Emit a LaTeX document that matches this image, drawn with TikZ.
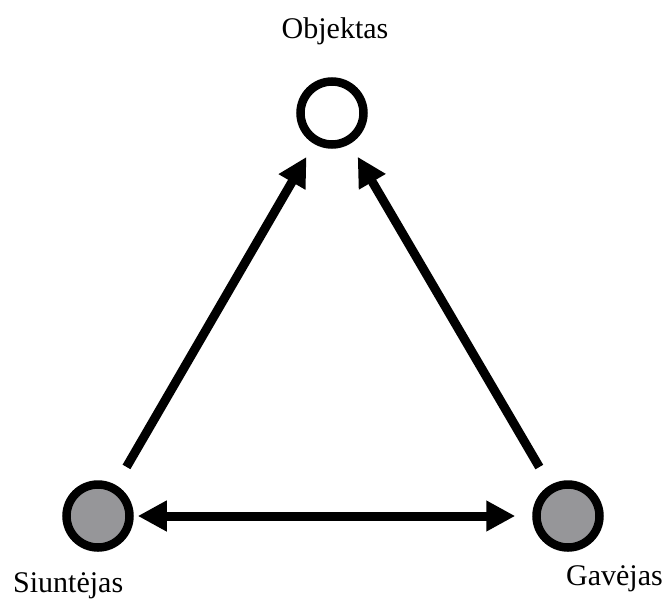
\documentclass[tikz,border=0pt]{standalone}
\usepackage{fontspec}
\setmainfont{Liberation Serif}
\usepackage{xcolor}
\usetikzlibrary{arrows.meta}
\definecolor{agentgray}{RGB}{150,150,153}
\begin{document}
\begin{tikzpicture}[x=1pt, y=-1pt,
                    party/.style={circle, draw=black, line width=8.5pt, minimum size=63pt, inner sep=0pt},
                    arr/.style={line width=9pt, -{Triangle[length=29pt, width=29pt]}},
                    lbl/.style={font=\fontsize{30}{33}\selectfont, inner sep=0pt}]
  \useasboundingbox (0,0) rectangle (667,600);
  \node[party, fill=white] (obj) at (332,113) {};
  \node[party, fill=agentgray] (snd) at (98,516) {};
  \node[party, fill=agentgray] (rcv) at (568,516) {};
  \node[lbl, anchor=base] (objlbl) at (335,38) {Objektas};
  \node[lbl, anchor=base west] (sndlbl) at (13,592) {Siuntėjas};
  \node[lbl, anchor=base east] (rcvlbl) at (663,585) {Gavėjas};
  \draw[arr, shorten <=21pt, shorten >=15pt] (snd) -- (obj);
  \draw[arr, shorten <=21pt, shorten >=15pt] (rcv) -- (obj);
  \draw[arr, {Triangle[length=29pt, width=29pt]}-{Triangle[length=29pt, width=29pt]},
        shorten <=4pt, shorten >=17pt] (snd) -- (rcv);
\end{tikzpicture}
\end{document}
